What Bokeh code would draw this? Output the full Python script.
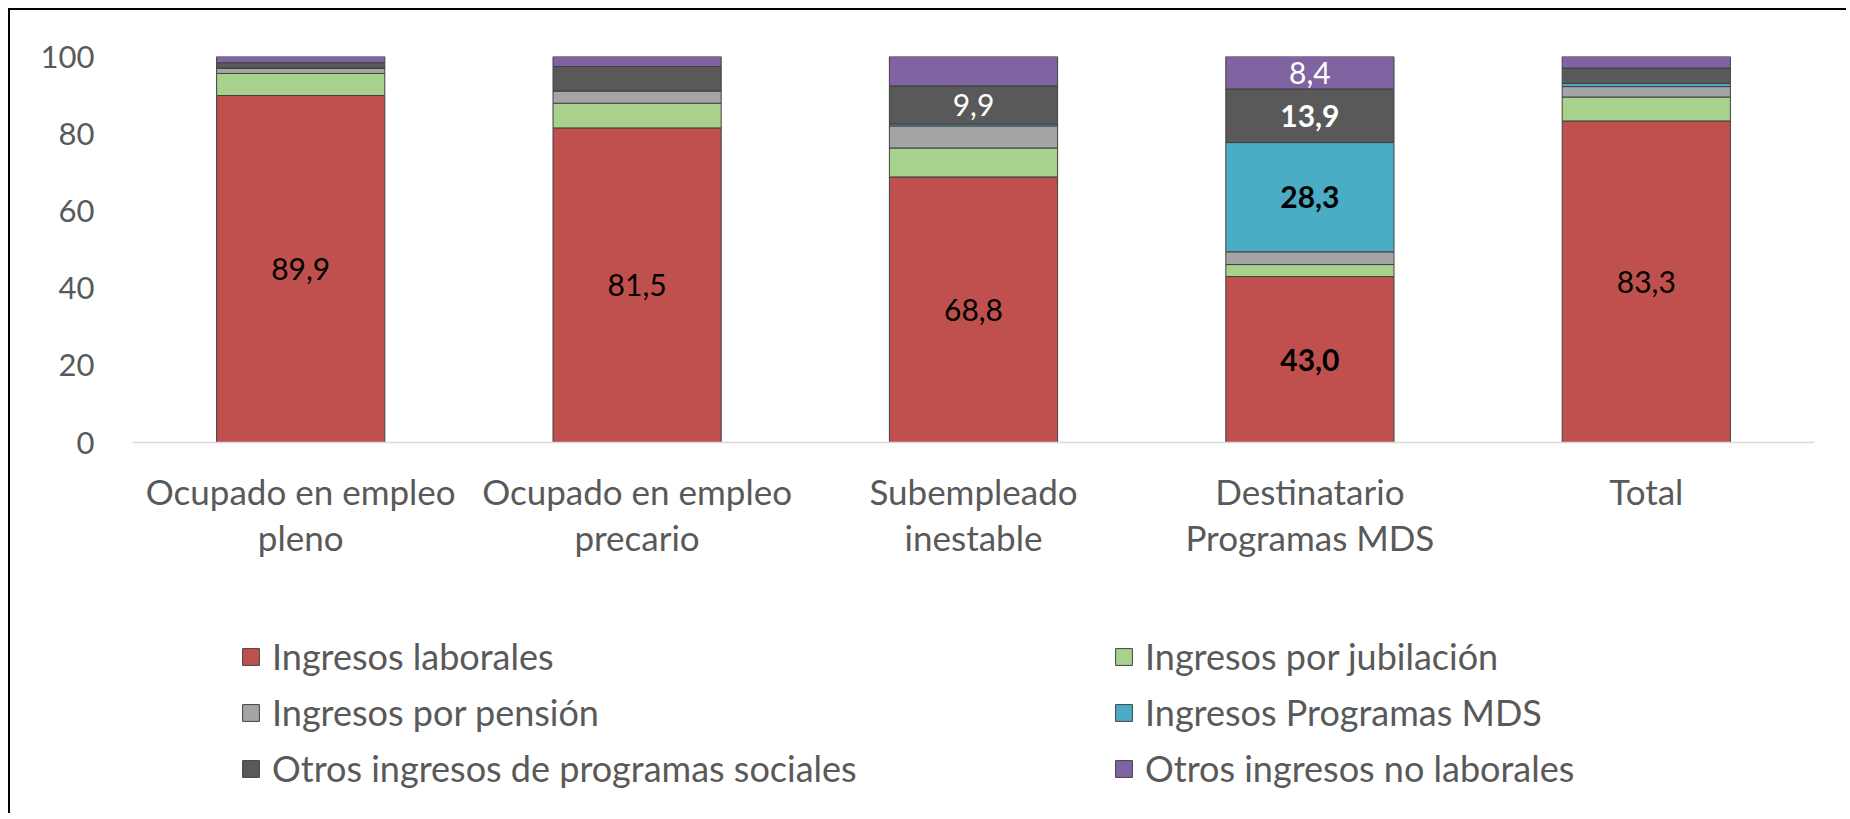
from bokeh.plotting import figure
from bokeh.models import (ColumnDataSource, FactorRange, Legend, LegendItem,
                          FixedTicker, Range1d)
from bokeh.core.properties import value
from bokeh.embed import file_html
from bokeh.resources import INLINE

categories = ["Ocupado en empleo\npleno", "Ocupado en empleo\nprecario",
              "Subempleado\ninestable", "Destinatario\nProgramas MDS", "Total"]
series_names = ["Ingresos laborales", "Ingresos por jubilación", "Ingresos por pensión",
                "Ingresos Programas MDS", "Otros ingresos de programas sociales",
                "Otros ingresos no laborales"]
laborales = [89.9, 81.5, 68.8, 43.0, 83.3]
jubilacion = [5.7, 6.4, 7.5, 3.1, 6.2]
pension = [1.4, 3.2, 5.7, 3.3, 2.7]
mds = [0.0, 0.0, 0.5, 28.3, 0.8]
otros_prog = [1.4, 6.3, 9.9, 13.9, 4.0]
otros_no_lab = [1.6, 2.6, 7.6, 8.4, 3.0]
y_ticks = [0, 20, 40, 60, 80, 100]

keys = ["laborales", "jubilacion", "pension", "mds", "otros_prog", "otros_no_lab"]
colors = ["#C0504D", "#A9D18E", "#A5A5A5", "#4BACC6", "#595959", "#8064A2"]

# which segments carry a value label: (series index, category index, color, style)
labeled = [(0, 0, "#000000", "normal"), (0, 1, "#000000", "normal"),
           (0, 2, "#000000", "normal"), (0, 3, "#000000", "bold"),
           (0, 4, "#000000", "normal"), (4, 2, "#FFFFFF", "normal"),
           (3, 3, "#000000", "bold"), (4, 3, "#FFFFFF", "bold"),
           (5, 3, "#FFFFFF", "normal")]

data = dict(cat=categories, laborales=laborales, jubilacion=jubilacion, pension=pension,
            mds=mds, otros_prog=otros_prog, otros_no_lab=otros_no_lab)
src = ColumnDataSource(data)

FONT = "Lato"
W, H = 1838, 805
FRAME_L, FRAME_R, FRAME_T, FRAME_B = 122, 1804, 46, 800
ZERO_PX = 432  # canvas y of value 0
px_per_unit = (ZERO_PX - FRAME_T) / 100.0
y_start = -(FRAME_B - ZERO_PX) / px_per_unit

p = figure(x_range=FactorRange(factors=categories), y_range=Range1d(y_start, 100),
           width=W, height=H, output_backend="svg", toolbar_location=None,
           min_border_left=FRAME_L, min_border_right=W - FRAME_R,
           min_border_top=FRAME_T, min_border_bottom=H - FRAME_B)
p.styles = {"margin-left": "8px", "margin-top": "8px",
            "border-left": "2px solid #000000", "border-top": "2px solid #000000"}
p.outline_line_color = None
p.xgrid.grid_line_color = None
p.ygrid.grid_line_color = None
p.x_range.range_padding = 0

rs = p.vbar_stack(keys, x="cat", width=0.5, source=src, fill_color=colors,
                  line_color="#404040", line_width=1)

# value labels
lx, ly, lt, lc, ls = [], [], [], [], []
series_vals = [laborales, jubilacion, pension, mds, otros_prog, otros_no_lab]
for si, ci, col, sty in labeled:
    base = sum(series_vals[k][ci] for k in range(si))
    v = series_vals[si][ci]
    lx.append(categories[ci])
    ly.append(base + v / 2)
    lt.append(f"{v:.1f}".replace(".", ","))
    lc.append(col)
    ls.append(sty)
lab = ColumnDataSource(dict(x=lx, y=ly, text=lt, color=lc, style=ls))
p.text(x="x", y="y", text="text", source=lab, text_align="center",
       text_baseline="middle", text_font=value(FONT), text_font_size="30px",
       text_color="color", text_font_style="style")

p.yaxis.ticker = FixedTicker(ticks=y_ticks)
p.yaxis.axis_line_color = None
p.yaxis.major_tick_line_color = None
p.yaxis.minor_tick_line_color = None
p.yaxis.major_tick_out = 0
p.yaxis.major_tick_in = 0
p.yaxis.major_label_standoff = 38
p.yaxis.major_label_text_font = FONT
p.yaxis.major_label_text_font_size = "31px"
p.yaxis.major_label_text_color = "#595959"

p.xaxis.fixed_location = 0
p.xaxis.axis_line_color = "#D9D9D9"
p.xaxis.axis_line_width = 1.5
p.xaxis.major_tick_line_color = None
p.xaxis.minor_tick_line_color = None
p.xaxis.major_tick_out = 0
p.xaxis.major_tick_in = 0
p.xaxis.major_label_standoff = 27
p.xaxis.major_label_text_font = FONT
p.xaxis.major_label_text_font_size = "35px"
p.xaxis.major_label_text_color = "#595959"
p.xaxis.major_label_text_line_height = 1.1


def make_legend(idx, x):
    items = [LegendItem(label=series_names[i], renderers=[rs[i]]) for i in idx]
    return Legend(items=items, location=(x, 20), padding=0, margin=0,
                  spacing=12, glyph_width=21, glyph_height=21, label_standoff=11,
                  label_text_font=FONT, label_text_font_size="36px",
                  label_text_color="#595959", background_fill_alpha=0,
                  border_line_alpha=0)


p.add_layout(make_legend([0, 2, 4], 108))
p.add_layout(make_legend([1, 3, 5], 981))

open("out.html", "w").write(file_html(p, INLINE))
